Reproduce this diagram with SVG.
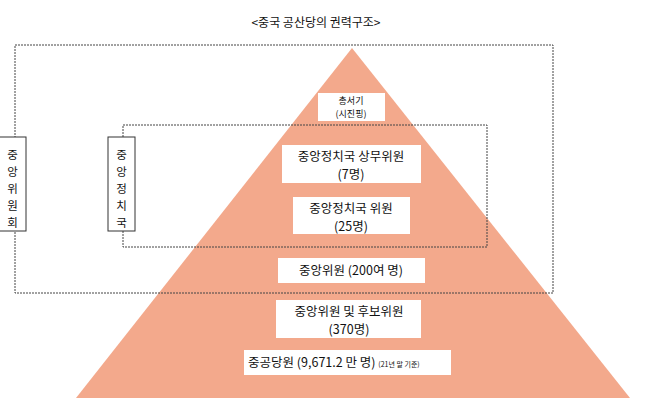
<svg xmlns="http://www.w3.org/2000/svg" width="658" height="410" viewBox="0 0 658 410">
<style>
text{font-family:"Malgun Gothic","Noto Sans CJK KR",sans-serif;fill:#111}
.box{fill:#fff}
.dot{fill:none;stroke:#444;stroke-width:1;stroke-dasharray:2 1}
.lab{fill:#fff;stroke:#333;stroke-width:1}
</style>
<rect width="658" height="410" fill="#fff"/>
<text x="316" y="27" font-size="12" text-anchor="middle">&lt;중국 공산당의 권력구조&gt;</text>
<g id="pyramid"><polygon points="352,48 76,398 630,398" fill="#F3A98C"/></g>
<g id="connectors">
<rect class="dot" x="15" y="45" width="538" height="248"/>
<rect class="dot" x="123" y="125" width="364" height="122"/>
</g>
<g id="n1"><rect class="box" x="318" y="93" width="67" height="28"/><text x="351" y="104" font-size="9" text-anchor="middle">총서기</text><text x="351" y="117" font-size="9" text-anchor="middle">(시진핑)</text></g>
<g id="n2"><rect class="box" x="282" y="145" width="139" height="38"/><text x="351" y="161" font-size="12.5" text-anchor="middle">중앙정치국 상무위원</text><text x="351" y="179" font-size="12.5" text-anchor="middle">(7명)</text></g>
<g id="n3"><rect class="box" x="293" y="197" width="117" height="37"/><text x="351" y="213" font-size="12.5" text-anchor="middle">중앙정치국 위원</text><text x="351" y="231" font-size="12.5" text-anchor="middle">(25명)</text></g>
<g id="n4"><rect class="box" x="278" y="258" width="147" height="25"/><text x="351" y="275" font-size="12.5" text-anchor="middle">중앙위원 (200여 명)</text></g>
<g id="n5"><rect class="box" x="276" y="300" width="145" height="38"/><text x="349" y="316" font-size="12.5" text-anchor="middle">중앙위원 및 후보위원</text><text x="349" y="334" font-size="12.5" text-anchor="middle">(370명)</text></g>
<g id="n6"><rect class="box" x="244" y="350" width="207" height="25"/><text x="248" y="367" font-size="12.5">중공당원 (9,671.2 만 명) <tspan font-size="7">(21년 말 기준)</tspan></text></g>
<g id="l1"><rect class="lab" x="-1" y="137" width="27" height="94"/><text x="12.5" font-size="11.5" text-anchor="middle"><tspan x="12.5" y="159">중</tspan><tspan x="12.5" y="176">앙</tspan><tspan x="12.5" y="193">위</tspan><tspan x="12.5" y="210">원</tspan><tspan x="12.5" y="227">회</tspan></text></g>
<g id="l2"><rect class="lab" x="108" y="137" width="27" height="94"/><text x="121.5" font-size="11.5" text-anchor="middle"><tspan x="121.5" y="159">중</tspan><tspan x="121.5" y="176">앙</tspan><tspan x="121.5" y="193">정</tspan><tspan x="121.5" y="210">치</tspan><tspan x="121.5" y="227">국</tspan></text></g>
</svg>
